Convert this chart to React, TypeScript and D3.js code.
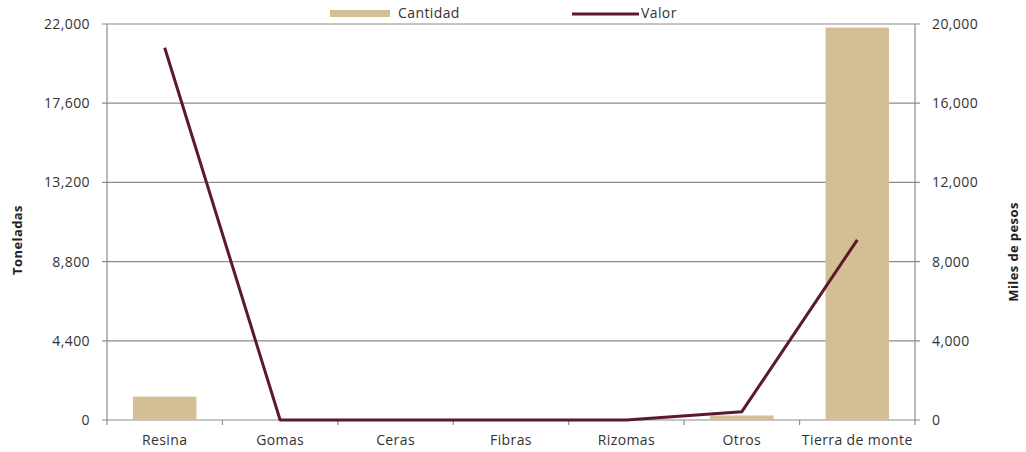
import { useEffect, useRef } from 'react'
import * as d3 from 'd3'

const CATEGORIES = ['Resina', 'Gomas', 'Ceras', 'Fibras', 'Rizomas', 'Otros', 'Tierra de monte']
const CANTIDAD = [1300, 0, 0, 0, 0, 250, 21800]
const VALOR = [18800, 0, 0, 0, 0, 420, 9100]
const LEFT_TICKS = [0, 4400, 8800, 13200, 17600, 22000]
const RIGHT_TICKS = [0, 4000, 8000, 12000, 16000, 20000]

export default function App() {
  const ref = useRef<SVGSVGElement>(null)

  useEffect(() => {
    const svg = d3.select(ref.current)
    svg.selectAll('*').remove()

    const width = 1026
    const height = 452
    const margin = { top: 24, right: 111, bottom: 32, left: 107 }
    const innerW = width - margin.left - margin.right
    const innerH = height - margin.top - margin.bottom
    const font = '"Open Sans", Lato, sans-serif'
    const axisColor = '#8c8c8c'
    const barColor = '#d4bf94'
    const lineColor = '#5a1a2a'
    const txt = '#333'

    svg.attr('width', width).attr('height', height)
      .style('font-family', font)
      .style('letter-spacing', '0.4px')

    const g = svg.append('g').attr('transform', `translate(${margin.left},${margin.top})`)

    const x = d3.scaleBand().domain(CATEGORIES).range([0, innerW]).padding(0)
    const yL = d3.scaleLinear().domain([0, 22000]).range([innerH, 0])
    const yR = d3.scaleLinear().domain([0, 20000]).range([innerH, 0])
    const fmt = d3.format(',')

    // gridlines
    g.append('g')
      .selectAll('line')
      .data(LEFT_TICKS)
      .join('line')
      .attr('x1', -5)
      .attr('x2', innerW + 5)
      .attr('y1', d => yL(d))
      .attr('y2', d => yL(d))
      .attr('stroke', axisColor)
      .attr('stroke-width', 1.2)

    // bars
    const barW = x.bandwidth() * 0.55
    g.append('g')
      .selectAll('rect')
      .data(CANTIDAD)
      .join('rect')
      .attr('x', (_, i) => x(CATEGORIES[i])! + (x.bandwidth() - barW) / 2)
      .attr('width', barW)
      .attr('y', d => yL(d))
      .attr('height', d => innerH - yL(d))
      .attr('fill', barColor)

    // axes lines
    g.append('line').attr('x1', 0).attr('x2', 0).attr('y1', 0).attr('y2', innerH)
      .attr('stroke', axisColor).attr('stroke-width', 1.2)
    g.append('line').attr('x1', innerW).attr('x2', innerW).attr('y1', 0).attr('y2', innerH)
      .attr('stroke', axisColor).attr('stroke-width', 1.2)

    // bottom ticks at category boundaries
    const bounds = CATEGORIES.map(c => x(c)!).concat([innerW])
    g.append('g')
      .selectAll('line')
      .data(bounds)
      .join('line')
      .attr('x1', d => d)
      .attr('x2', d => d)
      .attr('y1', innerH)
      .attr('y2', innerH + 5)
      .attr('stroke', axisColor)
      .attr('stroke-width', 1.2)

    // line
    const line = d3.line<number>()
      .x((_, i) => x(CATEGORIES[i])! + x.bandwidth() / 2)
      .y(d => yR(d))
    g.append('path')
      .datum(VALOR)
      .attr('d', line)
      .attr('fill', 'none')
      .attr('stroke', lineColor)
      .attr('stroke-width', 3)
      .attr('stroke-linejoin', 'round')

    // left tick labels
    g.append('g')
      .selectAll('text')
      .data(LEFT_TICKS)
      .join('text')
      .attr('x', -17)
      .attr('y', d => yL(d))
      .attr('dy', '0.35em')
      .attr('text-anchor', 'end')
      .attr('font-size', 14)
      .attr('fill', txt)
      .text(d => fmt(d))

    // right tick labels
    g.append('g')
      .selectAll('text')
      .data(RIGHT_TICKS)
      .join('text')
      .attr('x', innerW + 17)
      .attr('y', d => yR(d))
      .attr('dy', '0.35em')
      .attr('text-anchor', 'start')
      .attr('font-size', 14)
      .attr('fill', txt)
      .text(d => fmt(d))

    // category labels
    g.append('g')
      .selectAll('text')
      .data(CATEGORIES)
      .join('text')
      .attr('x', d => x(d)! + x.bandwidth() / 2)
      .attr('y', innerH + 25)
      .attr('text-anchor', 'middle')
      .attr('font-size', 14)
      .attr('fill', txt)
      .text(d => d)

    // axis titles
    svg.append('text')
      .attr('transform', `translate(22,${margin.top + innerH / 2 + 18}) rotate(-90)`)
      .attr('text-anchor', 'middle')
      .attr('font-size', 13)
      .attr('font-weight', 'bold')
      .attr('fill', '#222')
      .text('Toneladas')
    svg.append('text')
      .attr('transform', `translate(1018,${margin.top + innerH / 2 + 30}) rotate(-90)`)
      .attr('text-anchor', 'middle')
      .attr('font-size', 13)
      .attr('font-weight', 'bold')
      .attr('fill', '#222')
      .text('Miles de pesos')

    // legend
    const leg = svg.append('g')
    leg.append('rect').attr('x', 330).attr('y', 10).attr('width', 60).attr('height', 7).attr('fill', barColor)
    leg.append('text').attr('x', 398).attr('y', 18).attr('font-size', 14).attr('fill', txt).text('Cantidad')
    leg.append('line').attr('x1', 572).attr('x2', 639).attr('y1', 14).attr('y2', 14)
      .attr('stroke', lineColor).attr('stroke-width', 3)
    leg.append('text').attr('x', 641).attr('y', 18).attr('font-size', 14).attr('fill', txt).text('Valor')
  }, [])

  return <svg ref={ref} style={{ display: 'block', position: 'absolute', left: 0, top: 0 }} />
}
